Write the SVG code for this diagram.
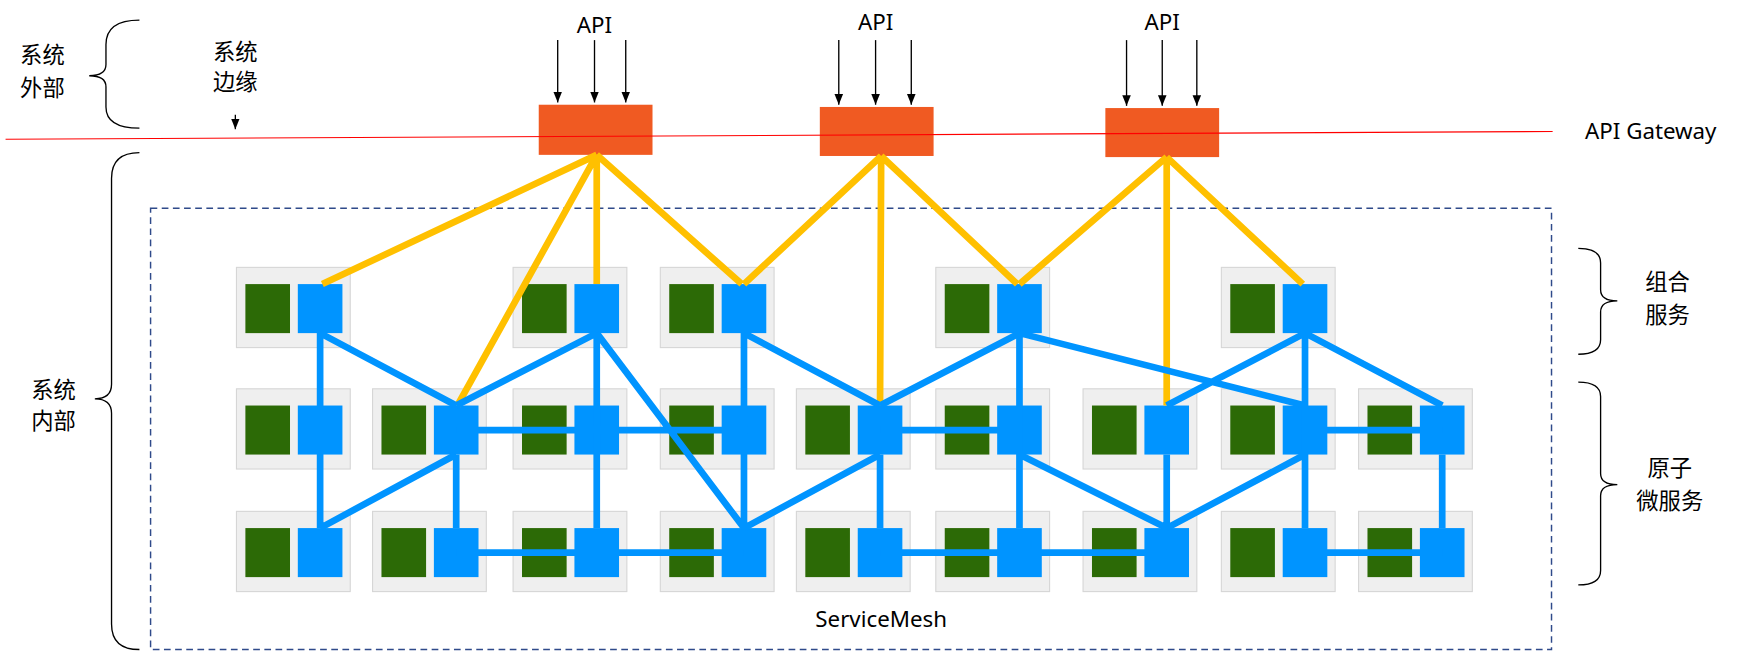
<svg xmlns="http://www.w3.org/2000/svg" width="1749" height="654" viewBox="0 0 1749 654">
<defs>
<style>
text{font-family:"Noto Sans","Noto Sans CJK SC",sans-serif;font-size:20px;fill:#000;text-anchor:middle}
.g{fill:#efefef;stroke:#d6d6d6;stroke-width:1}
.gr{fill:#2c6a06}
.bl{fill:#0094ff}
.gw{fill:#f05a22}
.y{stroke:#ffc000;stroke-width:6;fill:none}
.b{stroke:#0094ff;stroke-width:6;fill:none}
.br{stroke:#000;stroke-width:1.2;fill:none}
.ar{stroke:#000;stroke-width:1.2;marker-end:url(#a)}
</style>
<marker id="a" viewBox="0 0 10 10" refX="10" refY="5" markerWidth="8" markerHeight="8" orient="auto"><path d="M0,1 L10,5 L0,9 z" fill="#000"/></marker>
<symbol id="n" overflow="visible"><rect class="g" x="0" y="0" width="102" height="72"/><rect class="gr" x="8" y="15" width="40" height="44"/><rect class="bl" x="55" y="15" width="40" height="44"/></symbol>
</defs>
<rect width="1749" height="654" fill="#fff"/>
<g transform="scale(1.1154,1.1141)">
<g id="labels">
<path class="br" d="M125,18 Q95,18 95,40 L95,58 Q95,68 80,68 Q95,68 95,78 L95,96 Q95,115 125,115"/>
<text x="38" y="57">系统</text><text x="38" y="86">外部</text>
<text x="211" y="54">系统</text><text x="211" y="81">边缘</text>
<line class="ar" x1="211" y1="103" x2="211" y2="116"/>
<path class="br" d="M125,137 Q100,137 100,160 L100,345 Q100,358 85,358 Q100,358 100,371 L100,560 Q100,583 125,583"/>
<text x="48" y="357">系统</text><text x="48" y="385">内部</text>
<path class="br" d="M1415,223 Q1435,223 1435,236 L1435,260 Q1435,270 1450,270 Q1435,270 1435,280 L1435,305 Q1435,318 1415,318"/>
<text x="1495" y="260">组合</text><text x="1495" y="290">服务</text>
<path class="br" d="M1415,343 Q1435,343 1435,356 L1435,425 Q1435,435 1450,435 Q1435,435 1435,445 L1435,512 Q1435,525 1415,525"/>
<text x="1497" y="427">原子</text><text x="1497" y="457">微服务</text>
<text x="533" y="30">API</text><text x="785" y="27">API</text><text x="1042" y="27">API</text>
<text x="1480" y="125">API Gateway</text>
<text x="790" y="563">ServiceMesh</text>
</g>
<rect id="mesh" x="135" y="187" width="1256" height="396" fill="none" stroke="#2f4a8a" stroke-width="1.3" stroke-dasharray="6,4"/>
<g id="gateways">
<rect id="gw1" class="gw" x="483" y="94" width="102" height="45"/>
<rect id="gw2" class="gw" x="735" y="96" width="102" height="44"/>
<rect id="gw3" class="gw" x="991" y="97" width="102" height="44"/>
</g>
<line x1="5" y1="125" x2="1392" y2="118" stroke="#f00" stroke-width="1"/>
<g id="api-arrows">
<line class="ar" x1="500" y1="36" x2="500" y2="92"/><line class="ar" x1="533" y1="36" x2="533" y2="92"/><line class="ar" x1="561" y1="36" x2="561" y2="92"/>
<line class="ar" x1="752" y1="36" x2="752" y2="94"/><line class="ar" x1="785" y1="36" x2="785" y2="94"/><line class="ar" x1="817" y1="36" x2="817" y2="94"/>
<line class="ar" x1="1010" y1="36" x2="1010" y2="95"/><line class="ar" x1="1042" y1="36" x2="1042" y2="95"/><line class="ar" x1="1073" y1="36" x2="1073" y2="95"/>
</g>
<g id="nodes">
<use id="c1" href="#n" x="212" y="240"/><use id="c2" href="#n" x="460" y="240"/><use id="c3" href="#n" x="592" y="240"/><use id="c4" href="#n" x="839" y="240"/><use id="c5" href="#n" x="1095" y="240"/>
<use id="a1" href="#n" x="212" y="349"/><use id="a2" href="#n" x="334" y="349"/><use id="a3" href="#n" x="460" y="349"/><use id="a4" href="#n" x="592" y="349"/><use id="a5" href="#n" x="714" y="349"/><use id="a6" href="#n" x="839" y="349"/><use id="a7" href="#n" x="971" y="349"/><use id="a8" href="#n" x="1095" y="349"/><use id="a9" href="#n" x="1218" y="349"/>
<use id="b1" href="#n" x="212" y="459"/><use id="b2" href="#n" x="334" y="459"/><use id="b3" href="#n" x="460" y="459"/><use id="b4" href="#n" x="592" y="459"/><use id="b5" href="#n" x="714" y="459"/><use id="b6" href="#n" x="839" y="459"/><use id="b7" href="#n" x="971" y="459"/><use id="b8" href="#n" x="1095" y="459"/><use id="b9" href="#n" x="1218" y="459"/>
</g>
<g id="connectors">
<path class="y" d="M535,139 L289,255 M535,139 L535,255 M535,139 L410,364 M535,139 L665,255 M790,140 L667,255 M790,140 L789,364 M790,140 L912,255 M1046,141 L914,255 M1046,141 L1046,364 M1046,141 L1168,255"/>
<path class="b" d="M287,299 L287,474 M287,299 L409,364 M535,299 L409,364 M535,299 L535,474 M535,299 L667,474 M667,299 L667,474 M667,299 L789,364 M914,299 L789,364 M914,299 L914,474 M914,299 L1170,364 M1170,299 L1046,364 M1170,299 L1170,474 M1170,299 L1293,364
M409,386 L667,386 M789,386 L914,386 M1170,386 L1293,386
M409,408 L287,474 M409,408 L409,474 M789,408 L667,474 M789,408 L789,474 M914,408 L1046,474 M1170,408 L1046,474 M1046,408 L1046,474 M1293,408 L1293,474
M409,496 L667,496 M789,496 L1046,496 M1170,496 L1293,496"/>
</g>
</g>
</svg>
